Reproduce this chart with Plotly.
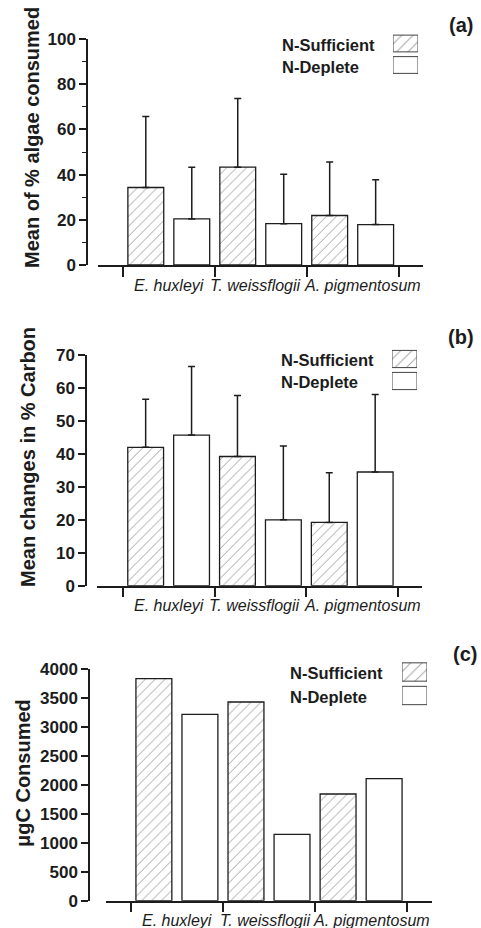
import plotly.graph_objects as go

# ---------------- data ----------------
categories = ["E. huxleyi", "T. weissflogii", "A. pigmentosum"]
series = ["N-Sufficient", "N-Deplete"]

# (a) Mean of % algae consumed: means and upper SD bars
a_suff = [34.3, 43.3, 21.9]
a_suff_sd = [31.4, 30.4, 23.7]
a_dep = [20.4, 18.3, 17.9]
a_dep_sd = [22.9, 21.9, 19.8]

# (b) Mean changes in % Carbon
b_suff = [42.0, 39.2, 19.2]
b_suff_sd = [14.6, 18.5, 15.1]
b_dep = [45.7, 20.0, 34.5]
b_dep_sd = [20.8, 22.4, 23.5]

# (c) ugC consumed
c_suff = [3833, 3430, 1842]
c_dep = [3217, 1145, 2106]

a_ticks = [0, 20, 40, 60, 80, 100]
b_ticks = [0, 10, 20, 30, 40, 50, 60, 70]
c_ticks = [0, 500, 1000, 1500, 2000, 2500, 3000, 3500, 4000]

# ---------------- layout helpers ----------------
W, H = 481, 928
def px(x):
    return x / W
def py(y):
    return 1 - y / H

FONT = "Liberation Sans, Arial, sans-serif"
INK = "#1c1c1c"
HATCH = dict(shape="/", fgcolor="#333333", bgcolor="white", size=7, solidity=0.13)
NOHATCH = dict(shape="", bgcolor="white")
BARW = 0.78

fig = go.Figure()

panels = [
    dict(suff=a_suff, suff_sd=a_suff_sd, dep=a_dep, dep_sd=a_dep_sd,
         xdom=(98, 423), xr=(-1.04, 6.03), ydom=(265, 39), yx=87, ticks=a_ticks,
         ymax=100, minor=True, title="Mean of % algae consumed", tpos=(32, 138),
         lab="(a)", labpos=(461, 25), leg_x=280, leg_y=(45, 67), box_x=(393, 418),
         box_y=(32.75, 75.75), catpos=285, catshift=[0, -5, 10]),
    dict(suff=b_suff, suff_sd=b_suff_sd, dep=b_dep, dep_sd=b_dep_sd,
         xdom=(97, 422), xr=(-1.06, 6.02), ydom=(585.7, 355), yx=86, ticks=b_ticks,
         ymax=70, minor=False, title="Mean changes in % Carbon", tpos=(28, 457),
         lab="(b)", labpos=(461, 337), leg_x=279, leg_y=(360, 382), box_x=(392, 417),
         box_y=(348, 392), catpos=605, catshift=[0, -6, 10]),
    dict(suff=c_suff, suff_sd=None, dep=c_dep, dep_sd=None,
         xdom=(106, 432), xr=(-1.04, 6.04), ydom=(900.7, 669), yx=89, ticks=c_ticks,
         ymax=4000, minor=False, title="\u03bcgC Consumed", tpos=(23, 773),
         lab="(c)", labpos=(465, 654), leg_x=288, leg_y=(673, 697), box_x=(402, 427),
         box_y=(660.25, 707.25), catpos=920, catshift=[0, -4, 10]),
]

annotations = []
for i, p in enumerate(panels):
    n = i + 1
    xa = "x" if n == 1 else f"x{n}"
    ya = "y" if n == 1 else f"y{n}"
    xs = [2 * k for k in range(len(categories))]
    xd = [2 * k + 1 for k in range(len(categories))]

    def err(sd):
        if sd is None:
            return None
        return dict(type="data", symmetric=False, array=sd,
                    arrayminus=[0] * len(sd), color=INK, thickness=1.5, width=3.5)

    fig.add_trace(go.Bar(x=xs, y=p["suff"], width=BARW, name=series[0],
                         marker=dict(color="white", line=dict(color=INK, width=1.3),
                                     pattern=HATCH),
                         error_y=err(p["suff_sd"]),
                         xaxis=xa, yaxis=ya, showlegend=False))
    fig.add_trace(go.Bar(x=xd, y=p["dep"], width=BARW, name=series[1],
                         marker=dict(color="white", line=dict(color=INK, width=1.3),
                                     pattern=NOHATCH),
                         error_y=err(p["dep_sd"]),
                         xaxis=xa, yaxis=ya, showlegend=False))

    xkey = "xaxis" if n == 1 else f"xaxis{n}"
    ykey = "yaxis" if n == 1 else f"yaxis{n}"
    fig.layout[xkey] = dict(domain=[px(p["xdom"][0]), px(p["xdom"][1])],
                            range=list(p["xr"]), anchor=ya, showline=True,
                            linecolor=INK, linewidth=1.5, showgrid=False,
                            zeroline=False, tickmode="array", automargin=False,
                            tickvals=[-0.5, 1.5, 3.5, 5.5], ticks="outside",
                            ticklen=10, tickwidth=1.5, tickcolor=INK,
                            showticklabels=False)
    ydict = dict(domain=[py(p["ydom"][0]), py(p["ydom"][1])],
                 range=[0, p["ymax"]], anchor="free", position=px(p["yx"]),
                 showline=True, linecolor=INK, linewidth=1.5, showgrid=False,
                 zeroline=False, tickmode="array", tickvals=p["ticks"], automargin=False,
                 ticks="outside", ticklen=7, tickwidth=1.5, tickcolor=INK,
                 tickfont=dict(family=FONT, size=17, color=INK, weight=700))
    if p["minor"]:
        ydict["minor"] = dict(ticks="outside", ticklen=4, tickwidth=1.3, tickcolor=INK,
                              dtick=p["ticks"][1] / 2, tick0=p["ticks"][1] / 2)
    fig.layout[ykey] = ydict

    # category labels
    for k, cat in enumerate(categories):
        annotations.append(dict(x=2 * k + 0.5, y=py(p["catpos"]), xref=xa, yref="paper",
                                text=cat, showarrow=False, xanchor="center",
                                yanchor="middle", xshift=p["catshift"][k],
                                font=dict(family=FONT, size=16, color=INK, style="italic")))
    # y-axis title
    annotations.append(dict(x=px(p["tpos"][0]), y=py(p["tpos"][1]), xref="paper",
                            yref="paper", text=p["title"], textangle=-90,
                            showarrow=False, xanchor="center", yanchor="middle",
                            font=dict(family=FONT, size=20, color=INK, weight=700)))
    # panel label
    annotations.append(dict(x=px(p["labpos"][0]), y=py(p["labpos"][1]), xref="paper",
                            yref="paper", text=p["lab"], showarrow=False,
                            xanchor="center", yanchor="middle",
                            font=dict(family=FONT, size=20, color=INK, weight=700)))
    # legend text
    for s, ly in zip(series, p["leg_y"]):
        annotations.append(dict(x=px(p["leg_x"]), y=py(ly), xref="paper", yref="paper",
                                text=s, showarrow=False, xanchor="left", yanchor="middle",
                                font=dict(family=FONT, size=16.5, color=INK, weight=700)))

    # legend swatches (small overlay axes, symbol to the right of the text)
    m = n + 3
    lx = f"x{m}"
    ly_ = f"y{m}"
    fig.add_trace(go.Bar(y=[1, 0], x=[1, 1], orientation="h", width=BARW,
                         marker=dict(color="white", line=dict(color="#444444", width=1),
                                     pattern=dict(shape=["/", ""], fgcolor="#444444",
                                                  bgcolor="white", size=8, solidity=0.12)),
                         xaxis=lx, yaxis=ly_, showlegend=False, cliponaxis=False,
                         hoverinfo="skip"))
    fig.layout[f"xaxis{m}"] = dict(domain=[px(p["box_x"][0]), px(p["box_x"][1])],
                                   range=[0, 1], visible=False, anchor=ly_, automargin=False)
    fig.layout[f"yaxis{m}"] = dict(domain=[py(p["box_y"][1]), py(p["box_y"][0])],
                                   range=[-0.5, 1.5], visible=False, anchor=lx, automargin=False)

fig.update_layout(width=W, height=H,
                  margin=dict(l=0, r=0, t=0, b=0, pad=0, autoexpand=False),
                  showlegend=False,
                  paper_bgcolor="white", plot_bgcolor="white", barmode="overlay",
                  annotations=annotations, font=dict(family=FONT, color=INK))

fig.write_html("out.html")
